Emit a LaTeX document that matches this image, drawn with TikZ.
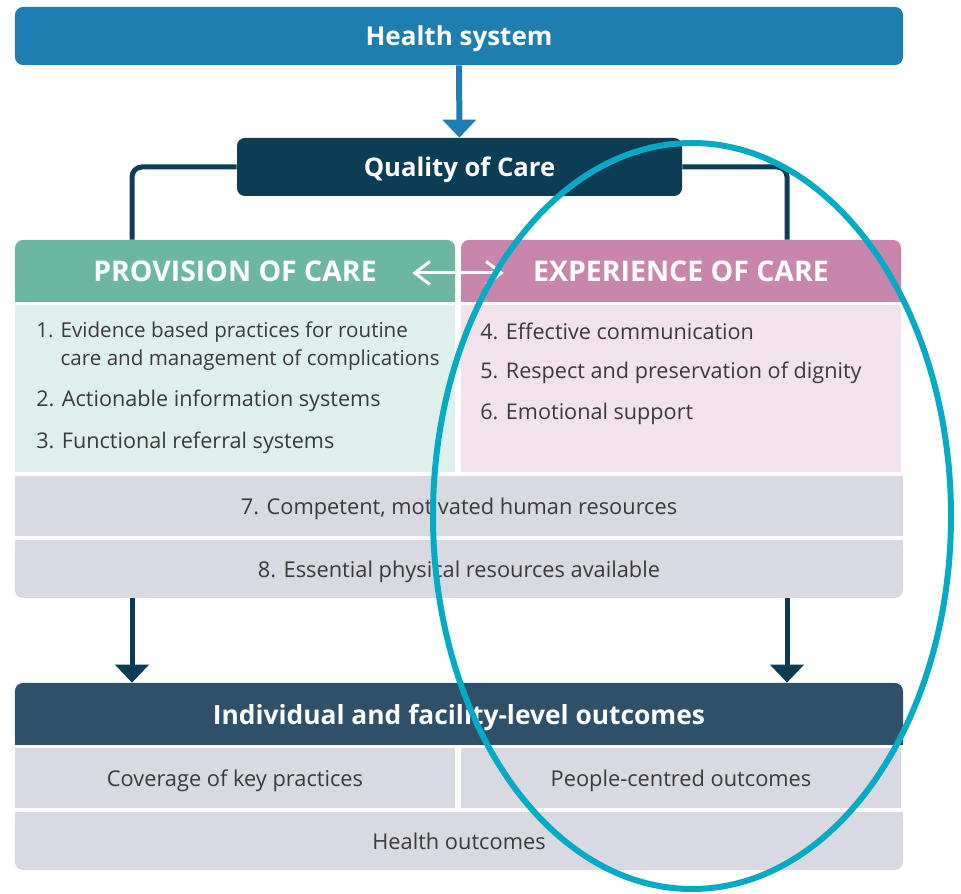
\documentclass[tikz,border=0pt]{standalone}
\usepackage{fontspec}
\setmainfont{Open Sans}
\usepackage{tikz}
\usetikzlibrary{positioning,arrows.meta,backgrounds}

\definecolor{hsblue}{HTML}{1F7EB1}
\definecolor{qcnavy}{HTML}{0D3D55}
\definecolor{provgreen}{HTML}{6DB6A2}
\definecolor{provlight}{HTML}{DFF0EC}
\definecolor{expepink}{HTML}{C886AD}
\definecolor{expelight}{HTML}{F1E2EB}
\definecolor{rowgray}{HTML}{D9D9E2}
\definecolor{outnavy}{HTML}{2E5068}
\definecolor{txtgray}{HTML}{3A3A3A}
\definecolor{ringcyan}{HTML}{05AAC4}

\tikzset{
    bar/.style = {
        shape=rectangle,
        rounded corners=4.5pt,
        minimum height=1.16cm,
        text depth=0pt,
        text=white,
        font=\bfseries\fontsize{14.8}{17}\selectfont
    },
    hdr/.style = {
        shape=rectangle,
        rounded corners=4.5pt,
        minimum height=1.24cm,
        minimum width=8.8cm,
        text depth=0pt,
        text=white,
        font=\bfseries\fontsize{16.2}{19}\selectfont
    },
    panel/.style = {
        shape=rectangle,
        minimum height=3.34cm,
        minimum width=8.8cm
    },
    entry/.style = {
        anchor=west,
        align=left,
        inner sep=0pt,
        text=txtgray,
        font=\fontsize{12.3}{15.9}\selectfont
    },
    row/.style = {
        shape=rectangle,
        fill=rowgray,
        minimum width=17.76cm,
        minimum height=1.16cm,
        text depth=0pt,
        text=txtgray,
        font=\fontsize{12.4}{14}\selectfont
    },
    cell/.style = {
        row,
        minimum width=8.8cm,
        minimum height=1.2cm
    },
    >={Triangle[length=0.36cm,width=0.66cm]},
}

\begin{document}
\begin{tikzpicture}
    \useasboundingbox (0,0) rectangle (19.22,-17.88);

    \node[bar, fill=hsblue, minimum width=17.76cm] (hs) at (9.18,-0.72) {Health system};
    \node[bar, fill=qcnavy, minimum width=8.9cm, font=\bfseries\fontsize{14.6}{17}\selectfont] (qc) at (9.19,-3.34) {Quality of Care};

    \node[hdr, fill=provgreen] (prov) at (4.70,-5.42) {PROVISION OF CARE};
    \node[hdr, fill=expepink] (expe) at (13.62,-5.42) {EXPERIENCE OF CARE};
    \node[panel, fill=provlight] (provp) at (4.70,-7.77) {};
    \node[panel, fill=expelight] (expep) at (13.62,-7.77) {};

    \node[entry, font=\fontsize{11.7}{15.9}\selectfont] (e1) at (0.72,-6.92) {1. Evidence based practices for routine\\\hphantom{1. }care and management of complications};
    \node[entry] (e2) at (0.72,-8.02) {2. Actionable information systems};
    \node[entry] (e3) at (0.72,-8.86) {3. Functional referral systems};
    \node[entry] (e4) at (9.60,-6.62) {4. Effective communication};
    \node[entry] (e5) at (9.60,-7.46) {5. Respect and preservation of dignity};
    \node[entry] (e6) at (9.60,-8.28) {6. Emotional support};

    \node[row, minimum height=1.2cm] (comp) at (9.18,-10.12) {7. Competent, motivated human resources};
    \node[row, rounded corners=4.5pt] (phys) at (9.18,-11.38) {8. Essential physical resources available};

    \node[bar, fill=outnavy, minimum width=17.76cm, minimum height=1.24cm,
          font=\bfseries\fontsize{15}{17}\selectfont] (outc) at (9.18,-14.28) {Individual and facility-level outcomes};
    \node[cell] (cover) at (4.70,-15.56) {Coverage of key practices};
    \node[cell] (people) at (13.62,-15.56) {People-centred outcomes};
    \node[row, rounded corners=4.5pt] (hout) at (9.18,-16.82) {Health outcomes};

    % square off the inner corners
    \begin{scope}[on background layer]
        \fill[provgreen] (prov.west) rectangle (prov.south east);
        \fill[expepink] (expe.west) rectangle (expe.south east);
        \fill[rowgray] (phys.north west) rectangle (phys.east);
        \fill[outnavy] (outc.west) rectangle (outc.south east);
        \fill[rowgray] (hout.north west) rectangle (hout.east);
    \end{scope}

    \coordinate (lft) at (2.64,-4.8);
    \coordinate (rgt) at (15.74,-4.8);

    \path[draw, hsblue, line width=0.12cm, ->] (hs) -- (qc);
    \path[draw, qcnavy, line width=0.1cm, rounded corners=0.2cm] (qc.west) -| (prov.north -| lft);
    \path[draw, qcnavy, line width=0.1cm, rounded corners=0.2cm] (qc.east) -| (expe.north -| rgt);
    \path[draw, white, line width=0.06cm,
          {Straight Barb[length=0.3cm,width=0.46cm]}-{Straight Barb[length=0.3cm,width=0.46cm]}]
          ([xshift=-0.86cm,yshift=-0.04cm]prov.east) -- ([xshift=0.86cm,yshift=-0.04cm]expe.west);
    \path[draw, qcnavy, line width=0.1cm, ->] (phys.south -| lft) -- (outc.north -| lft);
    \path[draw, qcnavy, line width=0.1cm, ->] (phys.south -| rgt) -- (outc.north -| rgt);

    \draw[ringcyan, line width=0.12cm] (13.84,-10.32) ellipse [x radius=5.18cm, y radius=7.46cm];
\end{tikzpicture}
\end{document}
